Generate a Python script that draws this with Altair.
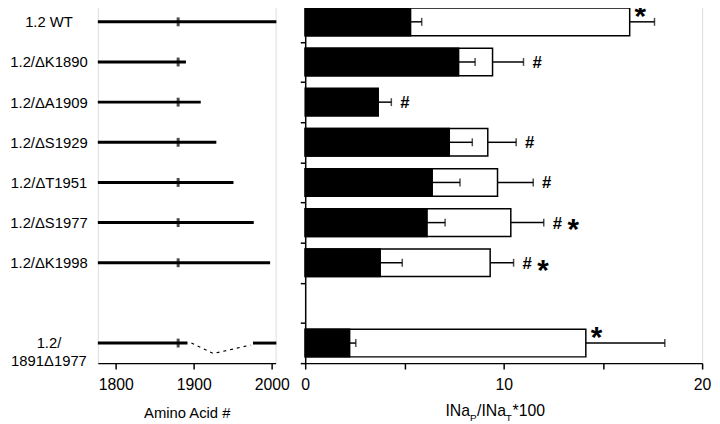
import json
import altair as alt
import pandas as pd

FONT = "Liberation Sans"

# ---- data ----
constructs = ["1.2 WT", "1.2/ΔK1890", "1.2/ΔA1909", "1.2/ΔS1929", "1.2/ΔT1951",
              "1.2/ΔS1977", "1.2/ΔK1998", "1.2/\n1891Δ1977"]
rows = [0, 1, 2, 3, 4, 5, 6, 8]

# construct schematic (amino acid positions)
seg_row = [0, 1, 2, 3, 4, 5, 6, 8, 8]
seg_start = [1777, 1777, 1777, 1777, 1777, 1777, 1777, 1777, 1976]
seg_end = [2006, 1890, 1909, 1929, 1951, 1977, 1998, 1892, 2006]
marker_aa = [1880, 1880, 1880, 1880, 1880, 1880, 1880, 1880]
del_aa = [1897, 1925, 1973]
del_row = [8.0, 8.26, 8.05]

# persistent current
black_mean = [5.31, 7.73, 3.68, 7.26, 6.40, 6.14, 3.78, 2.24]
black_sem = [0.56, 0.83, 0.66, 1.16, 1.40, 0.91, 1.11, 0.31]
total_mean = [16.35, 9.44, None, 9.20, 9.69, 10.36, 9.32, 14.14]
total_sem = [1.25, 1.56, None, 1.43, 1.80, 1.66, 1.18, 3.98]
hash_mark = [False, True, True, True, True, True, True, False]
star_mark = ["above", "", "", "", "", "inline", "inline", "above"]

x_ticks_left = [1800, 1900, 2000]
x_ticks_right = [0, 5, 10, 15, 20]
title_parts = ["INa", "P", "/INa", "T", "*100"]

# ---- tables ----
row_labels = [""] * 9
for r, c in zip(rows, constructs):
    row_labels[r] = c

seg_df = pd.DataFrame({"row": seg_row, "start": seg_start, "end": seg_end})
mark_df = pd.DataFrame({"row": rows, "aa": marker_aa})
del_df = pd.DataFrame({"row": del_row, "aa": del_aa, "o": [0, 1, 2]})

bar_df = pd.DataFrame({
    "row": rows, "black": black_mean, "bsem": black_sem,
    "total": total_mean, "tsem": total_sem,
    "hash": hash_mark, "star": star_mark,
})
bar_df["bend"] = bar_df["black"] + bar_df["bsem"]
bar_df["tend"] = bar_df["total"] + bar_df["tsem"]
bar_df["anchor"] = bar_df[["bend", "tend"]].max(axis=1)
bar_df["y0"] = bar_df["row"] - 0.344
bar_df["y1"] = bar_df["row"] + 0.344

H = 366
yscale = alt.Scale(domain=[-0.5, 8.5], reverse=True, nice=False, zero=False)

# ---- left panel: construct schematic ----
xs_left = alt.Scale(domain=[1777, 2005], nice=False, zero=False)
label_expr = "split(" + json.dumps(row_labels, ensure_ascii=False) + "[datum.value], '\\n')"

x_left_axis = alt.Axis(values=x_ticks_left, format="d", title="Amino Acid #", tickSize=6,
                       tickWidth=1.5, domainWidth=1.5, domainColor="black", tickColor="black",
                       labelColor="black", labelFontSize=16, labelFont=FONT, labelFlush=False,
                       labelPadding=8, titleFont=FONT, titleFontSize=15,
                       titleFontWeight="normal", titleColor="black", titlePadding=13, grid=False)
y_left_axis = alt.Axis(values=[0, 1, 2, 3, 4, 5, 6, 8], labelExpr=label_expr, domain=False,
                       ticks=False, tickSize=0, grid=False, title=None, labelAlign="center",
                       labelPadding=50, labelFontSize=15, labelFont=FONT, labelColor="black",
                       labelBaseline="middle", labelLineHeight=17.5, labelOverlap=False)

segs = alt.Chart(seg_df).mark_rule(color="black", strokeWidth=3).encode(
    x=alt.X("start:Q", scale=xs_left, axis=x_left_axis),
    x2="end:Q",
    y=alt.Y("row:Q", scale=yscale, axis=y_left_axis),
)
ticks = alt.Chart(mark_df).mark_tick(orient="vertical", color="black", thickness=3, size=9).encode(
    x=alt.X("aa:Q", scale=xs_left), y=alt.Y("row:Q", scale=yscale)
)
dels = alt.Chart(del_df).mark_line(color="black", strokeWidth=1.2, strokeDash=[3, 4]).encode(
    x=alt.X("aa:Q", scale=xs_left), y=alt.Y("row:Q", scale=yscale), order="o:Q"
)
left = alt.layer(segs, ticks, dels).properties(width=180, height=H)

# ---- right panel: bars ----
xs_right = alt.Scale(domain=[0, 20], nice=False, zero=False)
x_right_axis = alt.Axis(values=x_ticks_right, labelExpr="datum.value % 10 == 0 ? datum.label : ''",
                        title=None, tickSize=6, tickWidth=1.5, domainWidth=1.5,
                        domainColor="black", tickColor="black", labelColor="black",
                        labelFontSize=16, labelFont=FONT, labelFlush=False, labelPadding=8,
                        grid=False)
y_right_axis = alt.Axis(values=[-0.5 + i for i in range(10)], labels=False, title=None,
                        tickSize=5, tickWidth=1.5, domainWidth=1.5, domainColor="black",
                        tickColor="black", grid=False)

base = alt.Chart(bar_df)
white_bar = base.transform_filter("isValid(datum.total)").mark_bar(
    fill="white", stroke="black", strokeWidth=1.5).encode(
    x=alt.X("total:Q", scale=xs_right, axis=x_right_axis), x2=alt.X2("zero:Q"),
    y=alt.Y("y0:Q", scale=yscale, axis=y_right_axis), y2="y1:Q",
).transform_calculate(zero="0")
white_err = base.transform_filter("isValid(datum.total)").mark_rule(
    color="black", strokeWidth=1.5).encode(
    x=alt.X("total:Q", scale=xs_right), x2="tend:Q", y=alt.Y("row:Q", scale=yscale))
white_cap = base.transform_filter("isValid(datum.total)").mark_tick(
    orient="vertical", color="black", thickness=1.5, size=8).encode(
    x=alt.X("tend:Q", scale=xs_right), y=alt.Y("row:Q", scale=yscale))
black_bar = base.mark_bar(fill="black", stroke="black", strokeWidth=1.5).encode(
    x=alt.X("black:Q", scale=xs_right), x2=alt.X2("zero:Q"),
    y=alt.Y("y0:Q", scale=yscale), y2="y1:Q",
).transform_calculate(zero="0")
black_err = base.mark_rule(color="black", strokeWidth=1.5).encode(
    x=alt.X("black:Q", scale=xs_right), x2="bend:Q", y=alt.Y("row:Q", scale=yscale))
black_cap = base.mark_tick(orient="vertical", color="black", thickness=1.5, size=8).encode(
    x=alt.X("bend:Q", scale=xs_right), y=alt.Y("row:Q", scale=yscale))

hashes = base.transform_filter("datum.hash").mark_text(
    text="#", align="left", baseline="middle", dx=9, dy=1, fontSize=17, fontWeight="bold",
    font=FONT, color="black").encode(
    x=alt.X("anchor:Q", scale=xs_right), y=alt.Y("row:Q", scale=yscale))
star_inline = base.transform_filter("datum.star == 'inline'").mark_text(
    text="*", align="left", baseline="middle", dx=24, dy=8, fontSize=30, fontWeight="bold",
    font=FONT, color="black").encode(
    x=alt.X("anchor:Q", scale=xs_right), y=alt.Y("row:Q", scale=yscale))
star_above = base.transform_filter("datum.star == 'above'").mark_text(
    text="*", align="left", baseline="middle", dx=5, dy=-5, fontSize=30, fontWeight="bold",
    font=FONT, color="black").encode(
    x=alt.X("total:Q", scale=xs_right), y=alt.Y("row:Q", scale=yscale))

# custom axis title with subscripts
part_x = [142, 167, 174, 203, 210]
part_dy = [0, 5, 0, 5, 0]
part_size = [16, 10, 16, 10, 16]
title_layers = []
for txt, px, dy, fs in zip(title_parts, part_x, part_dy, part_size):
    title_layers.append(
        alt.Chart(alt.Data(values=[{"t": txt}])).mark_text(
            align="left", baseline="alphabetic", fontSize=fs, font=FONT, color="black", dy=dy
        ).encode(x=alt.value(px), y=alt.value(H + 54), text="t:N")
    )

right = alt.layer(white_bar, white_err, white_cap, black_bar, black_err, black_cap,
                  hashes, star_inline, star_above, *title_layers).properties(width=402, height=H)

chart = alt.hconcat(left, right, spacing=30, bounds="flush").properties(
    padding={"left": 1, "top": -11, "right": 0, "bottom": 0}
).configure_view(stroke=None).configure(font=FONT)

chart.save("out.html", embed_options={"renderer": "svg", "actions": False})
